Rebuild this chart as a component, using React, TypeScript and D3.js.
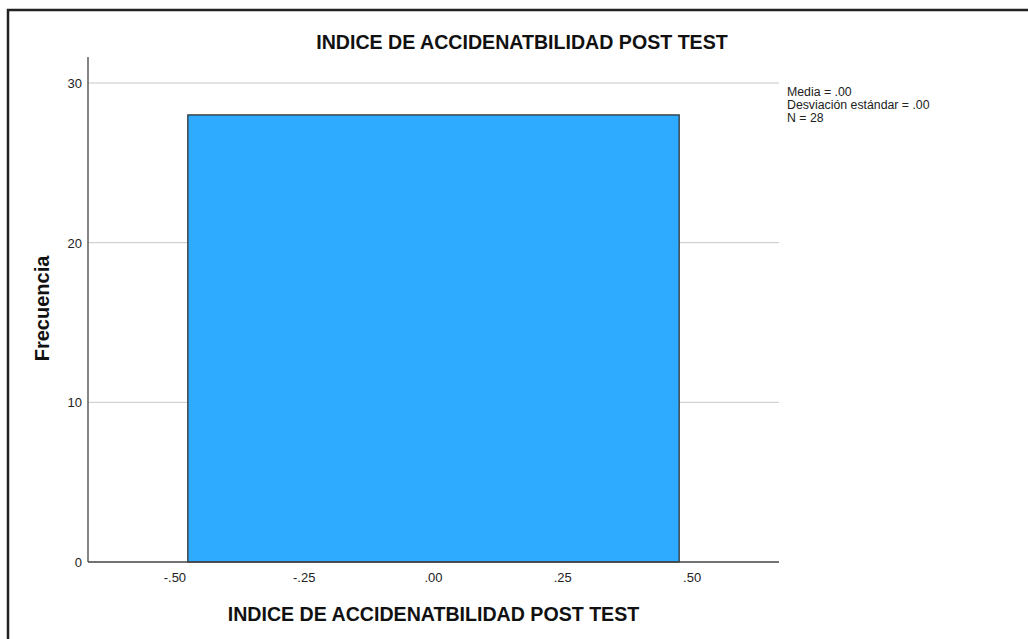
import React from "react";
import * as d3 from "d3";

const binStarts = [-0.475];
const binEnds = [0.475];
const frequencies = [28];
const xTicks = [-0.5, -0.25, 0, 0.25, 0.5];
const xTickLabels = ["-.50", "-.25", ".00", ".25", ".50"];
const yTicks = [0, 10, 20, 30];
const statsLines = ["Media = .00", "Desviación estándar = .00", "N = 28"];
const chartTitle = "INDICE DE ACCIDENATBILIDAD POST TEST";
const xTitle = "INDICE DE ACCIDENATBILIDAD POST TEST";
const yTitle = "Frecuencia";

const FONT = "'Liberation Sans', Arial, sans-serif";

export default function App() {
  const W = 1028, H = 639;
  const left = 88, right = 779, top = 57, bottom = 562;
  const x = d3.scaleLinear().domain([-0.668, 0.668]).range([left, right]);
  const y = d3.scaleLinear().domain([0, 30]).range([bottom, 83]);

  return (
    <svg width={W} height={H} style={{ position: "absolute", left: 0, top: 0, background: "#fff" }}>
      <rect x={0} y={0} width={W} height={H} fill="#fff" />
      <path d={`M8,${H + 5} L8,10 L${W + 5},10`} fill="none" stroke="#222" strokeWidth={2.5} />
      <text x={522} y={49} textAnchor="middle" fontFamily={FONT} fontWeight="bold" fontSize={19.6} fill="#111">
        {chartTitle}
      </text>
      {yTicks.filter((t) => t > 0).map((t) => (
        <line key={t} x1={left} x2={right} y1={y(t)} y2={y(t)} stroke="#c8c8c8" strokeWidth={1} />
      ))}
      {frequencies.map((f, i) => (
        <rect
          key={i}
          x={x(binStarts[i])}
          y={y(f)}
          width={x(binEnds[i]) - x(binStarts[i])}
          height={y(0) - y(f)}
          fill="#2EABFE"
          stroke="#333"
          strokeWidth={1.3}
        />
      ))}
      <line x1={left} x2={left} y1={top} y2={bottom} stroke="#444" strokeWidth={1.3} />
      <line x1={left} x2={right} y1={bottom} y2={bottom} stroke="#444" strokeWidth={1.3} />
      {yTicks.map((t) => (
        <text key={t} x={82} y={y(t) + 5} textAnchor="end" fontFamily={FONT} fontSize={13} fill="#222">
          {t}
        </text>
      ))}
      {xTicks.map((t, i) => (
        <text key={t} x={x(t)} y={582} textAnchor="middle" fontFamily={FONT} fontSize={13} fill="#222">
          {xTickLabels[i]}
        </text>
      ))}
      <text x={433.5} y={621} textAnchor="middle" fontFamily={FONT} fontWeight="bold" fontSize={19.6} fill="#111">
        {xTitle}
      </text>
      <text
        transform={`translate(49,${308.5}) rotate(-90)`}
        textAnchor="middle"
        fontFamily={FONT}
        fontWeight="bold"
        fontSize={20}
        fill="#111"
      >
        {yTitle}
      </text>
      {statsLines.map((s, i) => (
        <text key={i} x={787} y={96 + i * 13} fontFamily={FONT} fontSize={12.3} fill="#222">
          {s}
        </text>
      ))}
    </svg>
  );
}
